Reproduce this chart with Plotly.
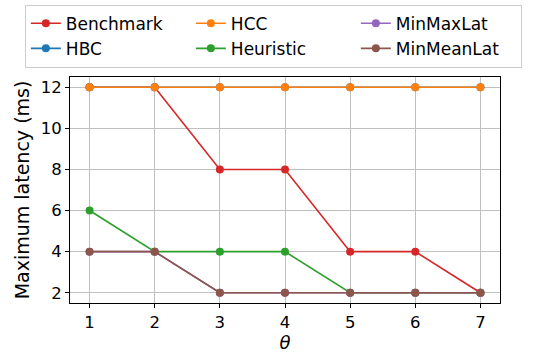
import plotly.graph_objects as go

theta = [1, 2, 3, 4, 5, 6, 7]
names = ["Benchmark", "HBC", "HCC", "Heuristic", "MinMaxLat", "MinMeanLat"]
benchmark = [12, 12, 8, 8, 4, 4, 2]
hbc = [12, 12, 12, 12, 12, 12, 12]
hcc = [12, 12, 12, 12, 12, 12, 12]
heuristic = [6, 4, 4, 4, 2, 2, 2]
minmaxlat = [4, 4, 2, 2, 2, 2, 2]
minmeanlat = [4, 4, 2, 2, 2, 2, 2]
y_ticks = [2, 4, 6, 8, 10, 12]

series = [benchmark, hbc, hcc, heuristic, minmaxlat, minmeanlat]
colors = ["#d62728", "#1f77b4", "#ff7f0e", "#2ca02c", "#9467bd", "#8c564b"]
ranks = [1, 4, 2, 5, 3, 6]

fig = go.Figure()
for name, ys, c, r in zip(names, series, colors, ranks):
    fig.add_trace(go.Scatter(
        x=theta, y=ys, name=name, mode="lines+markers",
        line=dict(color=c, width=1.6),
        marker=dict(color=c, size=8),
        legendrank=r,
    ))

font = dict(family="DejaVu Sans", size=16.5, color="black")
fig.update_layout(
    width=551, height=353,
    margin=dict(l=70, r=51, t=77, b=50, autoexpand=False),
    paper_bgcolor="white", plot_bgcolor="white",
    font=font,
    showlegend=True,
    legend=dict(
        orientation="h",
        xref="paper", yref="paper",
        x=-0.105, xanchor="left", y=1.32, yanchor="top",
        bordercolor="#cccccc", borderwidth=1,
        entrywidth=120, entrywidthmode="pixels",
        itemwidth=30,
        font=dict(family="DejaVu Sans", size=17, color="black"),
    ),
    xaxis=dict(
        range=[0.7, 7.3], tickmode="array", tickvals=theta,
        showline=True, linecolor="black", linewidth=1, mirror=True,
        ticks="outside", ticklen=4, tickcolor="black",
        showgrid=True, gridcolor="#c0c0c0", gridwidth=1,
        zeroline=False,
        title=dict(text="<i>θ</i>", standoff=3, font=dict(size=18)),
    ),
    yaxis=dict(
        range=[1.5, 12.5], tickmode="array", tickvals=y_ticks,
        showline=True, linecolor="black", linewidth=1, mirror=True,
        ticks="outside", ticklen=4, tickcolor="black",
        showgrid=True, gridcolor="#c0c0c0", gridwidth=1,
        zeroline=False,
        title=dict(text="Maximum latency (ms)", standoff=6, font=dict(size=19)),
    ),
)

fig.write_html("out.html", config={"displayModeBar": False},
               post_script="document.body.style.margin='0';")
